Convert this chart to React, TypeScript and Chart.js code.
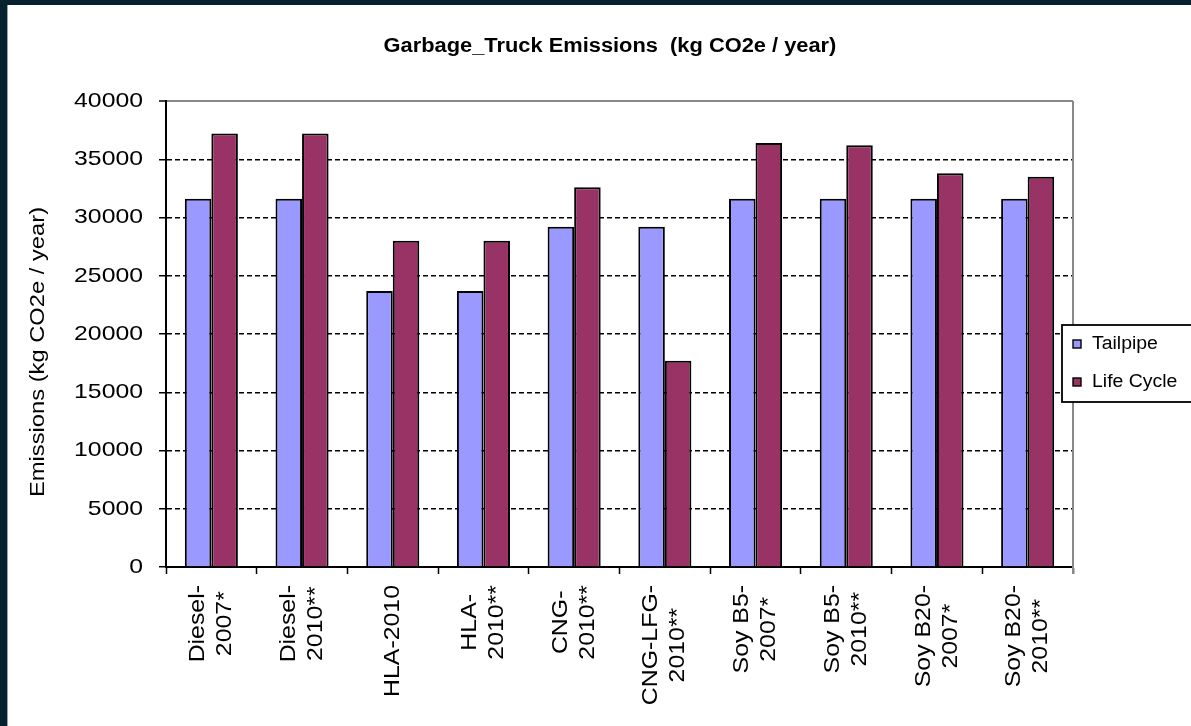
import { useEffect, useRef } from 'react';
import { Chart, registerables } from 'chart.js';

Chart.register(...registerables);

const chartTitle = 'Garbage_Truck Emissions  (kg CO2e / year)';
const yAxisTitle = 'Emissions (kg CO2e / year)';
const categories: string[][] = [
  ['Diesel-', '2007*'],
  ['Diesel-', '2010**'],
  ['HLA-2010'],
  ['HLA-', '2010**'],
  ['CNG-', '2010**'],
  ['CNG-LFG-', '2010**'],
  ['Soy B5-', '2007*'],
  ['Soy B5-', '2010**'],
  ['Soy B20-', '2007*'],
  ['Soy B20-', '2010**'],
];
const seriesNames = ['Tailpipe', 'Life Cycle'];
const tailpipe = [31600, 31600, 23700, 23700, 29200, 29200, 31600, 31600, 31600, 31600];
const lifeCycle = [37200, 37200, 28000, 28000, 32600, 17700, 36400, 36200, 33800, 33500];
const yMin = 0;
const yMax = 40000;
const yStep = 5000;

const COLORS = ['#9999FF', '#993366'];
const FONT = '"Liberation Sans", Arial, sans-serif';

function drawText(
  ctx: CanvasRenderingContext2D,
  text: string,
  x: number,
  y: number,
  o: { font: string; align: CanvasTextAlign; baseline: CanvasTextBaseline; rot?: number; sx?: number; color?: string }
) {
  ctx.save();
  ctx.translate(x, y);
  if (o.rot) ctx.rotate(o.rot);
  ctx.scale(o.sx ?? 1, 1);
  ctx.font = o.font;
  ctx.textAlign = o.align;
  ctx.textBaseline = o.baseline;
  ctx.fillStyle = o.color ?? '#000';
  ctx.fillText(text, 0, 0);
  ctx.restore();
}

const decorPlugin = {
  id: 'decor',
  afterDraw(chart: any) {
    const ctx: CanvasRenderingContext2D = chart.ctx;
    const area = chart.chartArea;
    const xs = chart.scales.x;
    const ys = chart.scales.y;

    // right border of plot area
    ctx.save();
    ctx.strokeStyle = '#888888';
    ctx.lineWidth = 2;
    ctx.beginPath();
    ctx.moveTo(area.right, area.top);
    ctx.lineTo(area.right, area.bottom + 7);
    ctx.stroke();
    ctx.restore();

    // y tick labels
    const tickFont = `21px ${FONT}`;
    ys.ticks.forEach((t: any) => {
      const py = ys.getPixelForValue(t.value);
      drawText(ctx, String(t.value), area.left - 23, py, { font: tickFont, align: 'right', baseline: 'middle', sx: 1.18 });
    });

    // x labels (rotated, lines centred)
    const xFont = `22px ${FONT}`;
    const sx = 1.13;
    const top = 580;
    categories.forEach((lines, i) => {
      const cx = xs.getPixelForValue(i);
      ctx.save();
      ctx.font = xFont;
      const maxW = Math.max(...lines.map((l) => ctx.measureText(l).width)) * sx;
      ctx.restore();
      const yc = top + maxW / 2;
      lines.forEach((line, j) => {
        const off = (j - (lines.length - 1) / 2) * 27;
        drawText(ctx, line, cx + off, yc, { font: xFont, align: 'center', baseline: 'middle', rot: -Math.PI / 2, sx });
      });
    });

    // y axis title
    drawText(ctx, yAxisTitle, 30, 347, {
      font: `21px ${FONT}`,
      align: 'center',
      baseline: 'middle',
      rot: -Math.PI / 2,
      sx: 1.13,
    });

    // chart title
    drawText(ctx, chartTitle, 602, 42, {
      font: `bold 19.5px ${FONT}`,
      align: 'center',
      baseline: 'middle',
      sx: 1.12,
    });

    // legend
    const lx = 1054;
    const ly = 320;
    ctx.save();
    ctx.fillStyle = '#ffffff';
    ctx.fillRect(lx, ly, 200, 77);
    ctx.strokeStyle = '#000';
    ctx.lineWidth = 1.8;
    ctx.strokeRect(lx, ly, 200, 77);
    ctx.restore();
    const items = chart.data.datasets;
    const rowsY = [339, 377];
    items.forEach((ds: any, k: number) => {
      const cy = rowsY[k];
      ctx.save();
      ctx.fillStyle = ds.backgroundColor;
      ctx.fillRect(1065, cy - 4, 8, 8);
      ctx.strokeStyle = '#000';
      ctx.lineWidth = 1.4;
      ctx.strokeRect(1065, cy - 4, 8, 8);
      ctx.restore();
      drawText(ctx, ds.label, 1084, cy, { font: `18px ${FONT}`, align: 'left', baseline: 'middle', sx: 1.08 });
    });
  },
};

export default function App() {
  const ref = useRef<HTMLCanvasElement | null>(null);

  useEffect(() => {
    document.body.style.margin = '0';
    const canvas = ref.current!;
    const chart = new Chart(canvas, {
      type: 'bar',
      data: {
        labels: categories.map((c) => c.join(' ')),
        datasets: [
          {
            label: seriesNames[0],
            data: tailpipe,
            backgroundColor: COLORS[0],
            borderColor: '#000',
            borderWidth: 2,
          },
          {
            label: seriesNames[1],
            data: lifeCycle,
            backgroundColor: COLORS[1],
            borderColor: '#000',
            borderWidth: 2,
          },
        ],
      },
      options: {
        animation: false,
        responsive: false,
        maintainAspectRatio: false,
        layout: { padding: { top: 96, right: 118, left: 0, bottom: 0 } },
        plugins: {
          legend: { display: false },
          title: { display: false },
          tooltip: { enabled: false },
        },
        datasets: {
          bar: { categoryPercentage: 0.585, barPercentage: 1 },
        },
        scales: {
          x: {
            ticks: { display: false },
            grid: {
              offset: true,
              drawOnChartArea: false,
              drawTicks: true,
              tickLength: 7,
              tickColor: '#000',
              tickWidth: 1.5,
            },
            border: { display: true, color: '#000', width: 2 },
            afterFit: (scale: any) => {
              scale.height = 159;
            },
          },
          y: {
            min: yMin,
            max: yMax,
            ticks: { display: false, stepSize: yStep },
            grid: {
              color: (c: any) => (c.tick && c.tick.value === yMax ? '#888888' : '#000000'),
              lineWidth: (c: any) => (c.tick && c.tick.value === yMax ? 2 : 1.5),
              drawTicks: true,
              tickLength: 7,
              tickColor: '#000',
              tickWidth: 1.5,
            },
            border: {
              display: true,
              color: '#000',
              width: 2,
              dash: (c: any) => (c.tick && c.tick.value === yMax ? [] : [5, 3]),
            },
            afterFit: (scale: any) => {
              scale.width = 158;
            },
          },
        },
      },
      plugins: [decorPlugin],
    });
    return () => chart.destroy();
  }, []);

  return (
    <div style={{ position: 'relative', width: 1191, height: 726, background: '#06222f', overflow: 'hidden' }}>
      <div
        style={{
          position: 'absolute',
          left: 7,
          top: 5,
          width: 1184,
          height: 721,
          background: '#ffffff',
          borderLeft: '1px solid #9aa3a8',
          boxSizing: 'border-box',
        }}
      >
        <canvas ref={ref} width={1183} height={721} style={{ display: 'block', width: 1183, height: 721 }} />
      </div>
    </div>
  );
}
